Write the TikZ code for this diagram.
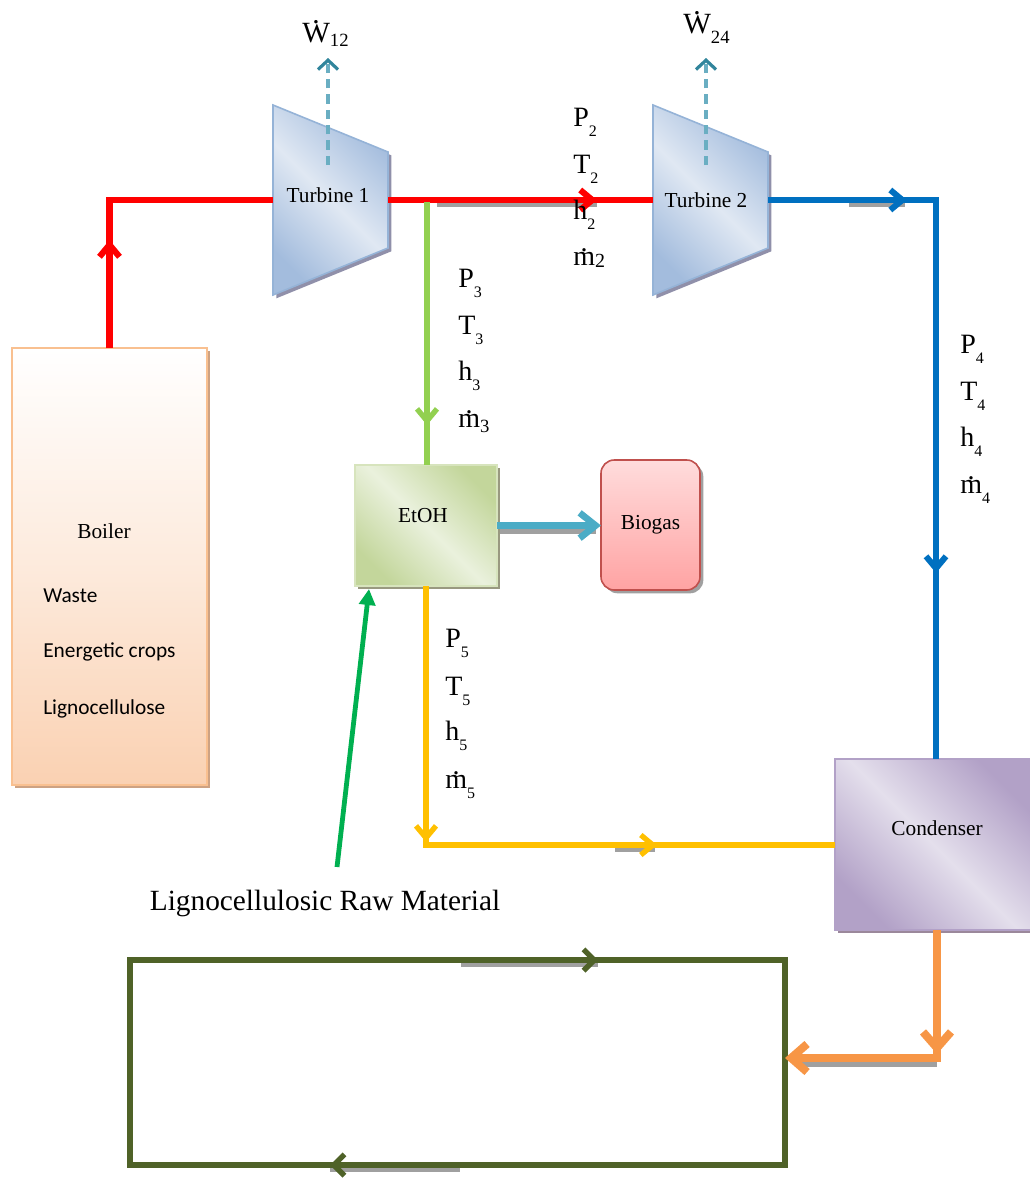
\documentclass[tikz,border=0pt]{standalone}
\usepackage{fontspec}
\setmainfont{Liberation Serif}
\newfontfamily\calib{Carlito}
\usetikzlibrary{arrows.meta,decorations.markings,shadows,calc}
\definecolor{cRed}{HTML}{FF0000}
\definecolor{cBlue}{HTML}{0070C0}
\definecolor{cLgreen}{HTML}{92D050}
\definecolor{cDash}{HTML}{6AAEC2}
\definecolor{cDashDark}{HTML}{31859C}
\definecolor{cTeal}{HTML}{4BACC6}
\definecolor{cYel}{HTML}{FFC000}
\definecolor{cGreen}{HTML}{00B050}
\definecolor{cOrange}{HTML}{F79646}
\definecolor{cOlive}{HTML}{4F6228}
\definecolor{cShadow}{HTML}{A0A0A0}
\definecolor{turbA}{HTML}{A3BCDD}
\definecolor{turbB}{HTML}{E0E8F3}
\definecolor{turbE}{HTML}{95B3D7}
\definecolor{boilT}{HTML}{FFFFFF}
\definecolor{boilB}{HTML}{FAD1B2}
\definecolor{boilE}{HTML}{F9C090}
\definecolor{boilS}{HTML}{CDA283}
\definecolor{etA}{HTML}{C3D69B}
\definecolor{etB}{HTML}{EAF1DD}
\definecolor{etE}{HTML}{D7E4BD}
\definecolor{bgT}{HTML}{FFDCDC}
\definecolor{bgB}{HTML}{FFA3A3}
\definecolor{bgE}{HTML}{C0504D}
\definecolor{coA}{HTML}{B2A1C7}
\definecolor{coB}{HTML}{E4DFEC}
\newcommand\sub[2][8pt]{\raisebox{-#1}{\fontsize{12}{12}\selectfont #2}}
\newcommand\mdot{\leavevmode\ooalign{m\cr\hidewidth\raisebox{0.47em}{.}\hidewidth\cr}}
\newcommand\Wdot{\leavevmode\ooalign{W\cr\hidewidth\raisebox{0.63em}{.}\hidewidth\cr}}
\begin{document}
\begin{tikzpicture}[x=0.75pt,y=-0.75pt,
  lab/.style={anchor=base west,inner sep=0pt,font=\fontsize{21}{21}\selectfont},
  txt/.style={inner sep=0pt,font=\fontsize{16}{16}\selectfont},
  ctxt/.style={anchor=west,inner sep=0pt,font=\calib\fontsize{16}{16}\selectfont},
  marr/.style 2 args={postaction={decorate,decoration={markings,mark=at position #1 with {\arrow{#2}}}}},
  tRed/.tip={Straight Barb[length=9pt,width=15pt]},
  tBlue/.tip={Straight Barb[length=9pt,width=15pt]},
  tLg/.tip={Straight Barb[length=9pt,width=15pt]},
  tYel/.tip={Straight Barb[length=9pt,width=15pt]},
  tOr/.tip={Straight Barb[length=12pt,width=21pt]},
  tOl/.tip={Straight Barb[length=8pt,width=16pt]},
  tDash/.tip={Straight Barb[length=7pt,width=15pt,color=cDashDark]},
  tTeal/.tip={Straight Barb[length=12pt,width=19pt]},
  tGr/.tip={Triangle[length=12pt,width=12pt]},
  shd/.style={drop shadow={shadow xshift=2.5pt,shadow yshift=-2.5pt,fill=#1,opacity=1}},
  turb/.style={draw=turbE,line width=1.2pt,top color=turbA,bottom color=turbA,middle color=turbB,shading angle=-45,shd=cShadow!90!blue},
  boxnode/.style={inner sep=0pt,outer sep=0pt,line width=1.2pt}
]
\useasboundingbox (0,0) rectangle (1030,1178);

% ---------- boxes ----------
\node[boxnode,draw=boilE,top color=boilT,bottom color=boilB,middle color=boilT!55!boilB,shd=boilS,
      minimum width=146.25pt,minimum height=327.75pt] (boiler) at (109.5,566.5) {};
\node[txt] (boilerlbl) at (104,531) {Boiler};
\node[ctxt] (waste) at (43,596) {Waste};
\node[ctxt] (crops) at (43,652) {Energetic crops};
\node[ctxt] (ligno) at (43,709) {Lignocellulose};

\node[boxnode,draw=etE,top color=etA,bottom color=etA,middle color=etB,shading angle=-45,shd=cShadow!80!olive,
      minimum width=106.5pt,minimum height=90.75pt] (etoh) at (426,525.5) {};
\node[txt] (etohlbl) at (423,516) {EtOH};

\node[boxnode,draw=bgE,rounded corners=10pt,top color=bgT,bottom color=bgB,shd=cShadow,
      minimum width=74.25pt,minimum height=97.5pt,font=\fontsize{16}{16}\selectfont] (biogas) at (650.5,525) {Biogas};

\node[boxnode,draw=coA,top color=coA,bottom color=coA,middle color=coB,shading angle=-45,shd=cShadow!85!violet,
      minimum width=147.75pt,minimum height=128.25pt] (cond) at (933.5,844.5) {};
\node[txt] (condlbl) at (937,828) {Condenser};

% ---------- turbines ----------
\coordinate (t1a) at (273,105); \coordinate (t1b) at (388,152);
\coordinate (t1c) at (388,248); \coordinate (t1d) at (273,295);
\path[turb] (t1a) -- (t1b) -- (t1c) -- (t1d) -- cycle;
\node[txt] (t1) at (328,195) {Turbine 1};
\coordinate (t2a) at (653,105); \coordinate (t2b) at (768,152);
\coordinate (t2c) at (768,248); \coordinate (t2d) at (653,295);
\path[turb] (t2a) -- (t2b) -- (t2c) -- (t2d) -- cycle;
\node[txt] (t2) at (706,200) {Turbine 2};

\coordinate (t1in) at (273,200);
\coordinate (t1out) at (388,200);
\coordinate (t2in) at (653,200);
\coordinate (t2out) at (768,200);

% ---------- work outputs ----------
\coordinate (t1top) at (328,165); \coordinate (w12tip) at (328,58);
\coordinate (t2top) at (706,165); \coordinate (w24tip) at (706,58);
\draw[cDash,line width=2.4pt,dash pattern=on 7pt off 4.5pt,-tDash] (t1top) -- (w12tip);
\draw[cDash,line width=2.4pt,dash pattern=on 7pt off 4.5pt,-tDash] (t2top) -- (w24tip);
\node[lab,font=\fontsize{22}{22}\selectfont] (w12) at (302,42) {\Wdot\sub[3pt]{\fontsize{14}{14}\selectfont 12}};
\node[lab,font=\fontsize{22}{22}\selectfont] (w24) at (683,33) {\Wdot\sub[8pt]{\fontsize{14}{14}\selectfont 24}};

% ---------- shadows of arrow shapes ----------
\draw[cShadow,line width=4.5pt] (437,204) -- (597,204);
\draw[cShadow,line width=4.5pt] (849,204) -- (905,204);
\draw[cShadow,line width=4pt] (615,849) -- (655,849);
\draw[cShadow,line width=4pt] (461,964) -- (598,964);
\draw[cShadow,line width=4pt] (330,1169) -- (460,1169);
\draw[cShadow,line width=5pt] (500,531) -- (596,531);
\draw[cShadow,line width=6pt] (795,1063) -- (937,1063);

% ---------- connectors ----------
\draw[cRed,line width=4.6pt,marr={81pt}{tRed}] (boiler.north) |- (t1in);
\draw[cRed,line width=4.6pt,marr={156.75pt}{tRed}] (t1out) -- (t2in);

\coordinate (bcorner) at (936,200);
\draw[cBlue,line width=4.5pt,marr={104.25pt}{tBlue},marr={405.75pt}{tBlue}]
  (t2out) -- (bcorner) -- (bcorner |- cond.north);

\coordinate (gtop) at (427,202);
\draw[cLgreen,line width=4pt,marr={167.25pt}{tLg}] (gtop) -- (gtop |- etoh.north);

\draw[cTeal,line width=5pt,-tTeal] (etoh.east) -- (etoh.east -| biogas.west);

\coordinate (ycorner) at (426,845);
\draw[cYel,line width=4pt,marr={192pt}{tYel},marr={367.5pt}{tYel}]
  (etoh.south) -- (ycorner) -- (ycorner -| cond.west);

\node[inner sep=0pt,font=\fontsize{22}{22}\selectfont] (raw) at (325,903) {Lignocellulosic Raw Material};
\coordinate (rawstart) at (337,867);
\coordinate (rawend) at (369,589);
\draw[cGreen,line width=3.6pt,-tGr] (rawstart) -- (rawend);

\node[inner sep=0pt,outer sep=0pt,minimum width=491.25pt,minimum height=153.75pt] (loop) at (457.5,1062.5) {};
\draw[cOlive,line width=4pt,marr={351pt}{tOl},marr={986.25pt}{tOl}]
  (loop.north west) -- (loop.north east) -- (loop.south east) -- (loop.south west) -- cycle;

\coordinate (otop) at (937,930);
\coordinate (ocorner) at (937,1058);
\draw[cOrange,line width=6pt,marr={93pt}{tOr},-tOr] (otop) -- (ocorner) -- (ocorner -| loop.east);

% ---------- state labels ----------
\node[lab] (p2) at (573,126) {P\sub{2}};
\node[lab] (tt2) at (573,173) {T\sub{2}};
\node[lab] (h2) at (573,219) {h\sub{2}};
\node[lab] (m2) at (573,265) {\mdot\sub[2pt]{\fontsize{15}{15}\selectfont 2}};

\node[lab] (p3) at (458,287) {P\sub{3}};
\node[lab] (tt3) at (458,334) {T\sub{3}};
\node[lab] (h3) at (458,380) {h\sub{3}};
\node[lab] (m3) at (458,427) {\mdot\sub[4pt]{\fontsize{14}{14}\selectfont 3}};

\node[lab] (p4) at (960,353) {P\sub{4}};
\node[lab] (tt4) at (960,400) {T\sub{4}};
\node[lab] (h4) at (960,446) {h\sub{4}};
\node[lab] (m4) at (960,493) {\mdot\sub{4}};

\node[lab] (p5) at (445,647) {P\sub{5}};
\node[lab] (tt5) at (445,695) {T\sub{5}};
\node[lab] (h5) at (445,740) {h\sub{5}};
\node[lab] (m5) at (445,788) {\mdot\sub{5}};
\end{tikzpicture}
\end{document}
